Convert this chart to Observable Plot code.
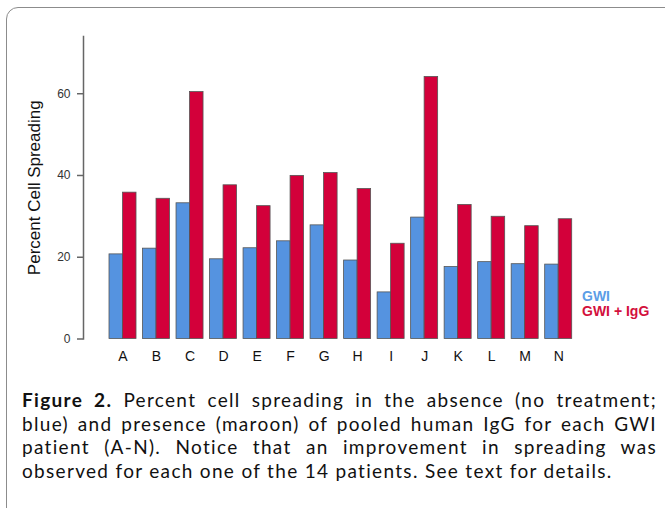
<!DOCTYPE html>
<html>
<head>
<meta charset="utf-8">
<script src="https://cdn.jsdelivr.net/npm/d3@7"></script>
<script src="https://cdn.jsdelivr.net/npm/@observablehq/plot@0.6"></script>
<style>
  html, body { margin: 0; padding: 0; background: #fff; }
  #wrap { position: relative; width: 665px; height: 508px; overflow: hidden; background: #fff; }
  #border { position: absolute; left: 6px; top: 7px; width: 720px; height: 530px; border: 1.5px solid #8c8c8c; border-radius: 12px; box-sizing: border-box; }
  #chart { position: absolute; left: 0; top: 0; }
  #legend { position: absolute; left: 582px; top: 289px; font-family: Arial, "Liberation Sans", sans-serif; font-weight: bold; font-size: 14px; line-height: 15px; }
  #caption { position: absolute; left: 22px; top: 388px; width: 635px; font-family: Lato, sans-serif; font-size: 19px; line-height: 23.5px; color: #111; }
  #caption .l { text-align: justify; text-align-last: justify; white-space: nowrap; }
  #caption .last { text-align: left; text-align-last: left; }
</style>
</head>
<body>
<div id="wrap">
  <div id="border"></div>
  <div id="chart"></div>
  <div id="legend"></div>
  <div id="caption"></div>
</div>
<script>
const patients = ["A","B","C","D","E","F","G","H","I","J","K","L","M","N"];
const gwi =      [20.7, 22.1, 33.2, 19.5, 22.2, 23.9, 27.8, 19.2, 11.4, 29.7, 17.6, 18.8, 18.3, 18.2];
const gwiIgg =   [35.8, 34.3, 60.4, 37.6, 32.5, 39.9, 40.6, 36.7, 23.3, 64.1, 32.8, 29.9, 27.6, 29.3];
const seriesNames = ["GWI", "GWI + IgG"];
const seriesColors = ["#5593e0", "#d3003a"];
const legendColors = ["#5b9de6", "#d3103c"];
const yTicks = [0, 20, 40, 60];
const yLabel = "Percent Cell Spreading";
const captionBold = "Figure 2.";
const captionLines = [
  " Percent cell spreading in the absence (no treatment;",
  "blue) and presence (maroon) of pooled human IgG for each GWI",
  "patient (A-N). Notice that an improvement in spreading was",
  "observed for each one of the 14 patients. See text for details."
];

const rows = [];
patients.forEach((p, i) => {
  rows.push({patient: p, series: seriesNames[0], value: gwi[i]});
  rows.push({patient: p, series: seriesNames[1], value: gwiIgg[i]});
});

const W = 665, H = 375;
const half = 13.5;
const chart = Plot.plot({
  width: W,
  height: H,
  marginLeft: 83,
  marginRight: 86,
  marginTop: 36,
  marginBottom: 36.5,
  style: {fontFamily: "Arial, 'Liberation Sans', sans-serif", background: "transparent", color: "#222"},
  x: {domain: patients, range: [102.5, 578.2], paddingInner: 0.194, paddingOuter: 0.194, round: false},
  y: {domain: [0, 74]},
  color: {domain: seriesNames, range: seriesColors},
  marks: [
    Plot.barY(rows.filter(d => d.series === seriesNames[0]), {x: "patient", y: "value", fill: "series", stroke: "#555", strokeWidth: 0.8, insetRight: half, insetLeft: 0}),
    Plot.barY(rows.filter(d => d.series === seriesNames[1]), {x: "patient", y: "value", fill: "series", stroke: "#555", strokeWidth: 0.8, insetLeft: half, insetRight: 0}),
    Plot.frame({anchor: "left", stroke: "#666", strokeWidth: 1.5}),
    Plot.axisY({ticks: yTicks, tickSize: 6, tickPadding: 7, fontSize: 12, stroke: "#666", strokeWidth: 1.5, label: null, color: "#333"}),
    Plot.axisY({ticks: [], label: yLabel, labelAnchor: "center", labelArrow: "none", labelOffset: 56, fontSize: 17, color: "#111"}),
    Plot.axisX({tickSize: 0, tickPadding: 12, fontSize: 14, label: null, color: "#111"})
  ]
});
document.getElementById("chart").appendChild(chart);

const legend = document.getElementById("legend");
seriesNames.forEach((s, i) => {
  const d = document.createElement("div");
  d.textContent = s;
  d.style.color = legendColors[i];
  legend.appendChild(d);
});

const cap = document.getElementById("caption");
captionLines.forEach((line, i) => {
  const d = document.createElement("div");
  d.className = i === captionLines.length - 1 ? "l last" : "l";
  if (i === 0) {
    const b = document.createElement("b");
    b.textContent = captionBold;
    d.appendChild(b);
  }
  d.appendChild(document.createTextNode(line));
  cap.appendChild(d);
});
// widen letters slightly so the unjustified last line spans about as wide as in the original
const lastDiv = cap.lastChild;
const probe = document.createElement("span");
probe.textContent = captionLines[captionLines.length - 1];
lastDiv.textContent = "";
lastDiv.appendChild(probe);
const target = 591;
const w0 = probe.getBoundingClientRect().width;
const nChars = captionLines[captionLines.length - 1].length;
if (w0 > 0 && w0 < target) {
  cap.style.letterSpacing = ((target - w0) / nChars).toFixed(3) + "px";
}
</script>
</body>
</html>
